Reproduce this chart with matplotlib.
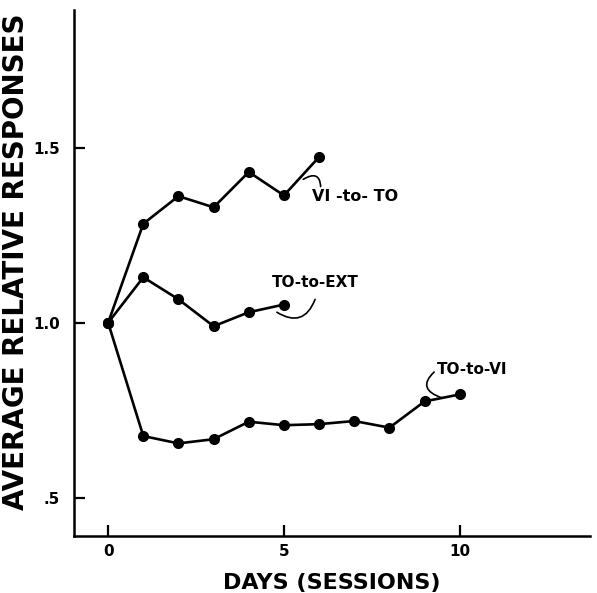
import matplotlib
matplotlib.use("Agg")
import matplotlib.pyplot as plt

# datos
dias_vi_to = [0, 1, 2, 3, 4, 5, 6]
vi_to = [1.0, 1.283, 1.362, 1.330, 1.431, 1.364, 1.474]

dias_to_ext = [0, 1, 2, 3, 4, 5]
to_ext = [1.0, 1.130, 1.067, 0.990, 1.030, 1.052]

dias_to_vi = [0, 1, 2, 3, 4, 5, 6, 7, 8, 9, 10]
to_vi = [1.0, 0.676, 0.655, 0.667, 0.717, 0.707, 0.710, 0.719, 0.700, 0.775, 0.795]

xticks = [0, 5, 10]
yticks = [0.5, 1.0, 1.5]
ytick_labels = [".5", "1.0", "1.5"]

plt.rcParams['font.family'] = ['DejaVu Sans']
plt.rcParams['font.weight'] = 'bold'

fig = plt.figure(figsize=(5.97, 5.93), dpi=100)
ax = fig.add_axes([0.124, 0.096, 0.864, 0.887])

estilo = dict(color="black", lw=1.9, marker="o", markersize=7, solid_joinstyle="round")
ax.plot(dias_vi_to, vi_to, **estilo)
ax.plot(dias_to_ext, to_ext, **estilo)
ax.plot(dias_to_vi, to_vi, **estilo)

# etiquetas con lineas onduladas
ax.annotate("VI -to- TO", xy=(5.55, 1.41), xytext=(5.8, 1.36),
            fontsize=11.5, fontweight="bold", va="center", ha="left",
            arrowprops=dict(arrowstyle="-", color="black", lw=1.2,
                            connectionstyle="arc3,rad=0.9", shrinkA=0, shrinkB=0,
                            relpos=(0.1, 1.0)))
ax.annotate("TO-to-EXT", xy=(4.8, 1.03), xytext=(4.65, 1.114),
            fontsize=11, fontweight="bold", va="center", ha="left",
            arrowprops=dict(arrowstyle="-", color="black", lw=1.2,
                            connectionstyle="arc3,rad=-0.6", shrinkA=0, shrinkB=0,
                            relpos=(0.5, -0.6)))
ax.annotate("TO-to-VI", xy=(9.5, 0.785), xytext=(9.35, 0.866),
            fontsize=11, fontweight="bold", va="center", ha="left",
            arrowprops=dict(arrowstyle="-", color="black", lw=1.2,
                            connectionstyle="arc3,rad=0.9", shrinkA=0, shrinkB=0,
                            relpos=(0.0, 0.5)))

ax.set_xlim(-0.97, 13.7)
ax.set_ylim(0.39, 1.894)
ax.set_xticks(xticks)
ax.set_xticklabels([str(t) for t in xticks])
ax.set_yticks(yticks)
ax.set_yticklabels(ytick_labels)
ax.tick_params(direction="in", length=8, width=1.6, labelsize=11)
ax.tick_params(axis="x", pad=6)
ax.tick_params(axis="y", pad=10)
for s in ["top", "right"]:
    ax.spines[s].set_visible(False)
for s in ["left", "bottom"]:
    ax.spines[s].set_linewidth(1.8)

ax.set_xlabel("DAYS (SESSIONS)", fontsize=16, fontweight="bold")
ax.xaxis.set_label_coords(0.5, -0.07)
ax.set_ylabel("AVERAGE RELATIVE RESPONSES", fontsize=20, fontweight="bold",
              rotation_mode="anchor", ha="right")
ax.yaxis.set_label_coords(-0.085, 0.994)

fig.savefig("out.png", dpi=100)
